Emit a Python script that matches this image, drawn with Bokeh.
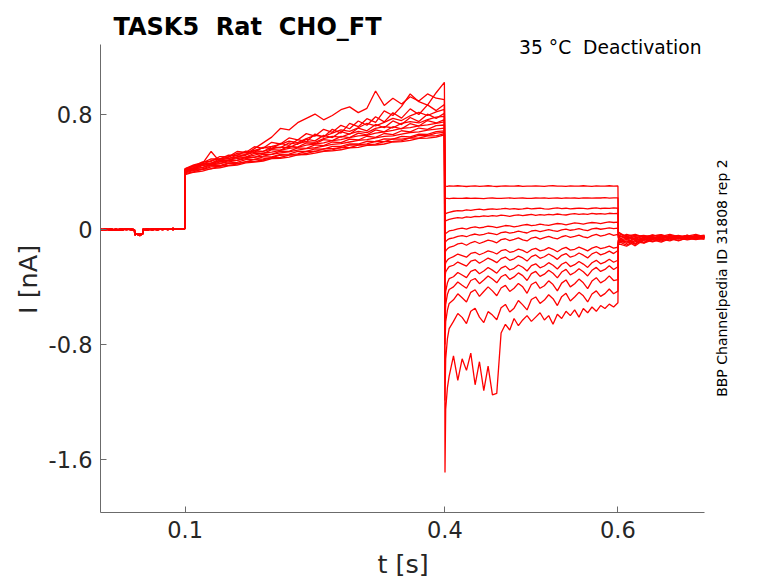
import math
from bokeh.plotting import figure
from bokeh.models import Range1d, FixedTicker, Label, Title
from bokeh.embed import file_html
from bokeh.resources import INLINE

# ---------------- data ----------------
title_text = "TASK5 \u00a0Rat \u00a0CHO_FT"
cond_text = "35 \u00b0C \u00a0Deactivation"
side_text = "BBP Channelpedia ID 31808 rep 2"
x_label = "t [s]"
y_label = "I [nA]"
x_ticks = [0.1, 0.4, 0.6]
x_tick_labels = ["0.1", "0.4", "0.6"]
y_ticks = [0.8, 0.0, -0.8, -1.6]
y_tick_labels = ["0.8", "0", "-0.8", "-1.6"]
x_axis_span = (0.0022, 0.700)
y_axis_span = (-1.967, 1.283)

# holding segment (shared by the sweeps)
base_t = [0.002, 0.008, 0.014, 0.020, 0.026, 0.032, 0.038, 0.0414, 0.0418, 0.045,
          0.048, 0.0508, 0.0512, 0.056, 0.062, 0.068, 0.074, 0.080, 0.086, 0.092, 0.0995]
base_a = [0.000, -0.004, 0.003, -0.006, 0.002, -0.003, 0.001, -0.002, -0.030, -0.038,
          -0.032, -0.036, -0.004, 0.002, -0.005, 0.003, -0.002, 0.004, -0.003, 0.005, 0.002]
base_b = [-0.006, 0.002, -0.008, 0.001, -0.007, 0.003, -0.005, -0.006, -0.040, -0.032,
          -0.044, -0.030, 0.001, -0.006, 0.002, -0.004, 0.005, -0.003, 0.006, -0.001, 0.004]

# pre-pulse segment
pre_t = [0.10, 0.11, 0.12, 0.13, 0.14, 0.15, 0.16, 0.17, 0.18, 0.19, 0.20, 0.21, 0.22,
         0.23, 0.24, 0.25, 0.26, 0.27, 0.28, 0.29, 0.30, 0.31, 0.32, 0.33, 0.34, 0.35,
         0.36, 0.37, 0.38, 0.39, 0.3995]
pre_1 = [0.421, 0.447, 0.462, 0.489, 0.488, 0.515, 0.513, 0.543, 0.536, 0.569, 0.560, 0.596, 0.583, 0.622, 0.608, 0.661, 0.640, 0.694, 0.668, 0.735, 0.712, 0.768, 0.742, 0.822, 0.790, 0.853, 0.940, 0.886, 0.862, 0.948, 1.020]
pre_2 = [0.420, 0.440, 0.455, 0.540, 0.470, 0.480, 0.500, 0.520, 0.560, 0.600, 0.640, 0.700, 0.690, 0.740, 0.770, 0.800, 0.760, 0.790, 0.830, 0.850, 0.810, 0.840, 0.960, 0.860, 0.910, 0.870, 0.920, 0.890, 0.940, 0.910, 0.900]
pre_3 = [0.418, 0.436, 0.468, 0.471, 0.505, 0.503, 0.540, 0.533, 0.573, 0.562, 0.604, 0.592, 0.634, 0.620, 0.664, 0.647, 0.694, 0.673, 0.722, 0.698, 0.752, 0.722, 0.781, 0.746, 0.809, 0.772, 0.836, 0.797, 0.864, 0.824, 0.866]
pre_4 = [0.417, 0.440, 0.452, 0.476, 0.488, 0.500, 0.527, 0.530, 0.548, 0.566, 0.575, 0.590, 0.612, 0.602, 0.630, 0.652, 0.644, 0.668, 0.690, 0.680, 0.705, 0.736, 0.718, 0.742, 0.770, 0.755, 0.788, 0.812, 0.790, 0.815, 0.833]
pre_5 = [0.412, 0.428, 0.456, 0.460, 0.488, 0.489, 0.517, 0.514, 0.546, 0.540, 0.573, 0.566, 0.600, 0.590, 0.626, 0.614, 0.652, 0.637, 0.678, 0.660, 0.703, 0.684, 0.728, 0.705, 0.752, 0.727, 0.776, 0.748, 0.799, 0.770, 0.806]
pre_6 = [0.409, 0.428, 0.450, 0.458, 0.480, 0.492, 0.502, 0.518, 0.534, 0.540, 0.558, 0.570, 0.566, 0.595, 0.608, 0.604, 0.630, 0.645, 0.640, 0.662, 0.680, 0.671, 0.700, 0.712, 0.705, 0.735, 0.748, 0.738, 0.762, 0.779, 0.784]
pre_7 = [0.407, 0.422, 0.447, 0.450, 0.476, 0.477, 0.503, 0.501, 0.528, 0.525, 0.553, 0.549, 0.577, 0.571, 0.600, 0.594, 0.622, 0.615, 0.645, 0.636, 0.668, 0.656, 0.690, 0.677, 0.712, 0.697, 0.734, 0.717, 0.755, 0.738, 0.762]
pre_8 = [0.404, 0.420, 0.442, 0.450, 0.466, 0.480, 0.491, 0.500, 0.515, 0.528, 0.535, 0.548, 0.562, 0.568, 0.584, 0.592, 0.600, 0.616, 0.622, 0.636, 0.648, 0.652, 0.668, 0.676, 0.686, 0.700, 0.706, 0.718, 0.725, 0.736, 0.745]
pre_9 = [0.403, 0.421, 0.428, 0.452, 0.455, 0.476, 0.478, 0.499, 0.500, 0.522, 0.520, 0.543, 0.541, 0.565, 0.562, 0.586, 0.581, 0.606, 0.601, 0.626, 0.620, 0.646, 0.638, 0.665, 0.657, 0.684, 0.676, 0.703, 0.694, 0.720, 0.724]
pre_10 = [0.401, 0.418, 0.430, 0.446, 0.456, 0.468, 0.478, 0.490, 0.500, 0.508, 0.520, 0.530, 0.538, 0.550, 0.560, 0.566, 0.578, 0.590, 0.594, 0.606, 0.618, 0.622, 0.634, 0.645, 0.648, 0.660, 0.672, 0.676, 0.688, 0.696, 0.703]
pre_11 = [0.396, 0.414, 0.420, 0.441, 0.442, 0.461, 0.465, 0.483, 0.484, 0.502, 0.503, 0.520, 0.522, 0.540, 0.540, 0.558, 0.557, 0.576, 0.575, 0.593, 0.592, 0.611, 0.609, 0.627, 0.626, 0.645, 0.642, 0.661, 0.659, 0.678, 0.683]
pre_12 = [0.392, 0.409, 0.414, 0.433, 0.437, 0.456, 0.458, 0.468, 0.486, 0.488, 0.497, 0.514, 0.516, 0.524, 0.541, 0.540, 0.559, 0.560, 0.566, 0.585, 0.586, 0.593, 0.611, 0.609, 0.627, 0.626, 0.634, 0.652, 0.650, 0.667, 0.673]
pre_13 = [0.387, 0.401, 0.417, 0.420, 0.438, 0.443, 0.452, 0.470, 0.471, 0.481, 0.497, 0.499, 0.515, 0.517, 0.526, 0.543, 0.544, 0.551, 0.568, 0.567, 0.584, 0.586, 0.591, 0.609, 0.610, 0.616, 0.634, 0.633, 0.648, 0.649, 0.664]
pre_14 = [0.379, 0.396, 0.404, 0.421, 0.427, 0.441, 0.446, 0.461, 0.466, 0.474, 0.490, 0.493, 0.501, 0.517, 0.519, 0.528, 0.541, 0.545, 0.552, 0.566, 0.569, 0.583, 0.585, 0.592, 0.606, 0.609, 0.617, 0.631, 0.633, 0.640, 0.655]

# tail (deactivation) segment
tail_t = [0.4002, 0.401, 0.403, 0.405, 0.410, 0.415, 0.420, 0.425, 0.430, 0.435, 0.440,
          0.445, 0.450, 0.455, 0.460, 0.465, 0.470, 0.475, 0.480, 0.485, 0.490, 0.495,
          0.500, 0.505, 0.510, 0.515, 0.520, 0.525, 0.530, 0.535, 0.540, 0.545, 0.550,
          0.555, 0.560, 0.565, 0.570, 0.575, 0.580, 0.585, 0.590, 0.595, 0.600]
tail_1 = [0.302, 0.300, 0.298, 0.301, 0.299, 0.302, 0.300, 0.297, 0.300, 0.301, 0.298, 0.300, 0.302, 0.299, 0.297, 0.300, 0.301, 0.299, 0.300, 0.302, 0.298, 0.300, 0.299, 0.301, 0.300, 0.298, 0.301, 0.302, 0.299, 0.300, 0.298, 0.301, 0.300, 0.299, 0.302, 0.300, 0.298, 0.301, 0.299, 0.300, 0.302, 0.300, 0.301]
tail_2 = [0.212, 0.214, 0.215, 0.213, 0.216, 0.214, 0.215, 0.217, 0.214, 0.216, 0.215, 0.213, 0.216, 0.217, 0.215, 0.214, 0.216, 0.218, 0.215, 0.216, 0.217, 0.215, 0.214, 0.217, 0.216, 0.218, 0.215, 0.216, 0.217, 0.215, 0.218, 0.216, 0.217, 0.215, 0.218, 0.217, 0.216, 0.218, 0.217, 0.219, 0.216, 0.218, 0.218]
tail_3 = [0.100, 0.108, 0.114, 0.118, 0.125, 0.130, 0.128, 0.134, 0.131, 0.137, 0.140, 0.135, 0.139, 0.142, 0.138, 0.141, 0.145, 0.140, 0.143, 0.139, 0.142, 0.146, 0.141, 0.144, 0.147, 0.142, 0.140, 0.145, 0.148, 0.143, 0.146, 0.141, 0.144, 0.147, 0.145, 0.142, 0.146, 0.149, 0.144, 0.147, 0.145, 0.148, 0.146]
tail_4 = [0.050, 0.058, 0.064, 0.068, 0.075, 0.081, 0.078, 0.086, 0.083, 0.090, 0.087, 0.093, 0.089, 0.095, 0.091, 0.098, 0.094, 0.090, 0.097, 0.100, 0.095, 0.099, 0.103, 0.097, 0.101, 0.098, 0.104, 0.100, 0.106, 0.102, 0.099, 0.105, 0.108, 0.103, 0.107, 0.104, 0.110, 0.106, 0.109, 0.105, 0.111, 0.108, 0.110]
tail_5 = [-0.040, -0.030, -0.021, -0.012, -0.006, 0.002, 0.008, 0.001, 0.012, 0.016, 0.009, 0.014, 0.021, 0.018, 0.011, 0.019, 0.026, 0.024, 0.017, 0.022, 0.029, 0.033, 0.025, 0.028, 0.036, 0.031, 0.027, 0.034, 0.040, 0.037, 0.031, 0.038, 0.044, 0.041, 0.036, 0.043, 0.047, 0.045, 0.039, 0.046, 0.051, 0.047, 0.050]
tail_6 = [-0.100, -0.086, -0.074, -0.066, -0.060, -0.049, -0.044, -0.052, -0.040, -0.033, -0.041, -0.035, -0.026, -0.031, -0.038, -0.024, -0.019, -0.027, -0.022, -0.013, -0.020, -0.026, -0.012, -0.008, -0.016, -0.010, -0.002, -0.009, -0.014, -0.004, 0.001, -0.007, -0.002, 0.004, -0.004, -0.009, 0.003, 0.007, 0.000, 0.005, 0.010, 0.004, 0.008]
tail_7 = [-0.170, -0.150, -0.136, -0.126, -0.118, -0.102, -0.097, -0.111, -0.094, -0.085, -0.099, -0.088, -0.076, -0.083, -0.094, -0.072, -0.066, -0.079, -0.070, -0.060, -0.074, -0.081, -0.061, -0.055, -0.068, -0.058, -0.049, -0.060, -0.067, -0.052, -0.045, -0.057, -0.050, -0.041, -0.053, -0.059, -0.044, -0.036, -0.047, -0.040, -0.031, -0.042, -0.035]
tail_8 = [-0.260, -0.232, -0.214, -0.203, -0.190, -0.172, -0.183, -0.194, -0.168, -0.160, -0.177, -0.165, -0.150, -0.158, -0.172, -0.149, -0.141, -0.160, -0.153, -0.138, -0.147, -0.163, -0.142, -0.133, -0.150, -0.143, -0.128, -0.139, -0.156, -0.137, -0.126, -0.145, -0.139, -0.124, -0.136, -0.150, -0.131, -0.120, -0.135, -0.128, -0.117, -0.131, -0.125]
tail_9 = [-0.330, -0.297, -0.276, -0.260, -0.250, -0.228, -0.242, -0.256, -0.222, -0.212, -0.236, -0.219, -0.200, -0.214, -0.232, -0.204, -0.193, -0.216, -0.205, -0.186, -0.199, -0.221, -0.190, -0.178, -0.202, -0.191, -0.172, -0.188, -0.209, -0.181, -0.169, -0.194, -0.184, -0.165, -0.180, -0.199, -0.171, -0.158, -0.178, -0.167, -0.152, -0.169, -0.148]
tail_10 = [-0.550, -0.432, -0.372, -0.343, -0.330, -0.300, -0.318, -0.336, -0.292, -0.280, -0.309, -0.290, -0.266, -0.284, -0.305, -0.270, -0.256, -0.283, -0.271, -0.248, -0.264, -0.290, -0.252, -0.240, -0.268, -0.255, -0.232, -0.250, -0.276, -0.243, -0.228, -0.259, -0.246, -0.224, -0.242, -0.265, -0.233, -0.216, -0.240, -0.228, -0.208, -0.229, -0.215]
tail_11 = [-0.650, -0.522, -0.452, -0.418, -0.400, -0.366, -0.389, -0.410, -0.356, -0.342, -0.378, -0.352, -0.324, -0.346, -0.372, -0.330, -0.314, -0.348, -0.331, -0.303, -0.322, -0.356, -0.308, -0.293, -0.327, -0.312, -0.285, -0.306, -0.338, -0.297, -0.279, -0.317, -0.300, -0.274, -0.295, -0.324, -0.285, -0.265, -0.293, -0.279, -0.254, -0.280, -0.260]
tail_12 = [-0.800, -0.642, -0.562, -0.515, -0.490, -0.448, -0.476, -0.505, -0.438, -0.420, -0.466, -0.432, -0.400, -0.428, -0.462, -0.408, -0.390, -0.432, -0.410, -0.376, -0.400, -0.445, -0.384, -0.366, -0.410, -0.392, -0.358, -0.384, -0.428, -0.374, -0.352, -0.400, -0.378, -0.346, -0.372, -0.412, -0.360, -0.336, -0.372, -0.354, -0.324, -0.356, -0.350]
tail_13 = [-1.190, -0.900, -0.760, -0.690, -0.640, -0.585, -0.612, -0.655, -0.570, -0.548, -0.610, -0.648, -0.572, -0.596, -0.628, -0.545, -0.522, -0.575, -0.548, -0.495, -0.525, -0.560, -0.488, -0.470, -0.515, -0.492, -0.455, -0.482, -0.530, -0.468, -0.445, -0.498, -0.470, -0.438, -0.462, -0.505, -0.450, -0.428, -0.466, -0.447, -0.415, -0.448, -0.430]
tail_14 = [-1.690, -1.250, -1.100, -1.020, -0.880, -1.050, -0.900, -0.980, -0.860, -1.080, -0.920, -1.120, -0.950, -1.150, -1.140, -0.720, -0.660, -0.700, -0.620, -0.670, -0.630, -0.600, -0.640, -0.610, -0.580, -0.630, -0.600, -0.660, -0.590, -0.620, -0.570, -0.600, -0.560, -0.610, -0.550, -0.580, -0.540, -0.570, -0.530, -0.550, -0.520, -0.540, -0.510]

# post segment
post_t = [0.6005, 0.61, 0.62, 0.63, 0.64, 0.65, 0.66, 0.67, 0.68, 0.69, 0.70]
post_1 = [-0.030, -0.048, -0.036, -0.055, -0.041, -0.050, -0.035, -0.052, -0.043, -0.058, -0.045]
post_2 = [-0.045, -0.062, -0.040, -0.058, -0.047, -0.038, -0.055, -0.044, -0.060, -0.042, -0.050]
post_3 = [-0.020, -0.055, -0.070, -0.045, -0.052, -0.066, -0.041, -0.057, -0.048, -0.036, -0.053]
post_4 = [-0.060, -0.035, -0.052, -0.074, -0.046, -0.040, -0.061, -0.049, -0.055, -0.044, -0.058]
post_5 = [-0.038, -0.068, -0.050, -0.042, -0.063, -0.054, -0.047, -0.066, -0.040, -0.059, -0.046]
post_6 = [-0.052, -0.044, -0.080, -0.057, -0.039, -0.060, -0.051, -0.043, -0.064, -0.050, -0.041]
post_7 = [-0.065, -0.090, -0.058, -0.048, -0.070, -0.045, -0.059, -0.053, -0.046, -0.062, -0.055]
post_8 = [-0.070, -0.052, -0.063, -0.095, -0.055, -0.066, -0.048, -0.060, -0.068, -0.047, -0.057]
post_9 = [-0.080, -0.061, -0.100, -0.060, -0.072, -0.050, -0.064, -0.057, -0.050, -0.065, -0.052]
post_10 = [-0.075, -0.098, -0.066, -0.077, -0.058, -0.082, -0.056, -0.069, -0.053, -0.060, -0.049]
post_11 = [-0.090, -0.070, -0.105, -0.064, -0.085, -0.061, -0.073, -0.058, -0.066, -0.054, -0.062]
post_12 = [-0.085, -0.110, -0.078, -0.090, -0.067, -0.075, -0.062, -0.080, -0.057, -0.068, -0.059]
post_13 = [-0.095, -0.080, -0.115, -0.072, -0.088, -0.069, -0.081, -0.060, -0.074, -0.063, -0.070]
post_14 = [-0.100, -0.118, -0.085, -0.097, -0.074, -0.090, -0.066, -0.078, -0.064, -0.072, -0.061]

pre_all = [pre_1, pre_2, pre_3, pre_4, pre_5, pre_6, pre_7, pre_8, pre_9, pre_10, pre_11, pre_12, pre_13, pre_14]
tail_all = [tail_1, tail_2, tail_3, tail_4, tail_5, tail_6, tail_7, tail_8, tail_9, tail_10, tail_11, tail_12, tail_13, tail_14]
post_all = [post_1, post_2, post_3, post_4, post_5, post_6, post_7, post_8, post_9, post_10, post_11, post_12, post_13, post_14]

xs, ys = [], []
for i in range(len(pre_all)):
    base = base_a if i % 2 == 0 else base_b
    xs.append(base_t + pre_t + tail_t + post_t)
    ys.append(base + pre_all[i] + tail_all[i] + post_all[i])

# ---------------- figure ----------------
FONT = "DejaVu Sans"
AX = "#6b6b6b"
TXT = "#262626"

# the frame reaches up to the title and right to the side note; the axes are
# bounded to the data window so that they look like the reference's L-shaped axes
p = figure(frame_width=669, frame_height=510,
           x_range=Range1d(0.0022, 0.7751), y_range=Range1d(-1.967, 1.5747),
           output_backend="svg", toolbar_location=None, title=None,
           min_border_left=100, min_border_right=0, min_border_top=2, min_border_bottom=5)

p.multi_line(xs, ys, line_color="#ff0000", line_width=1.3)

p.xaxis.ticker = FixedTicker(ticks=x_ticks)
p.xaxis.major_label_overrides = dict(zip(x_ticks, x_tick_labels))
p.yaxis.ticker = FixedTicker(ticks=y_ticks)
p.yaxis.major_label_overrides = dict(zip(y_ticks, y_tick_labels))
p.xaxis.bounds = x_axis_span
p.yaxis.bounds = y_axis_span

for ax in (p.xaxis, p.yaxis):
    ax.axis_line_color = AX
    ax.axis_line_width = 1
    ax.major_tick_line_color = AX
    ax.major_tick_in = 6
    ax.major_tick_out = 0
    ax.minor_tick_line_color = None
    ax.major_label_text_font = FONT
    ax.major_label_text_font_size = "22.5px"
    ax.major_label_text_color = TXT
    ax.major_label_standoff = 8

p.xgrid.visible = False
p.ygrid.visible = False
p.outline_line_color = None
p.background_fill_color = "white"
p.border_fill_color = "white"

# axis titles, placed on the middle of the bounded axes rather than of the wider frame
p.add_layout(Title(text=x_label, align="left", offset=277, standoff=12,
                   text_font=FONT, text_font_size="25.5px", text_font_style="normal",
                   text_color=TXT), "below")
p.add_layout(Title(text=y_label, align="left", offset=198.5, standoff=6,
                   text_font=FONT, text_font_size="25.5px", text_font_style="normal",
                   text_color=TXT), "left")

p.add_layout(Label(x=0.0172, y=1.408, text=title_text, text_font=FONT,
                   text_font_style="bold", text_font_size="24px", text_color="black",
                   text_align="left", text_baseline="alphabetic"))
p.add_layout(Label(x=0.6966, y=1.262, text=cond_text, text_font=FONT,
                   text_font_size="18.7px", text_color="black",
                   text_align="right", text_baseline="alphabetic"))
p.add_layout(Label(x=0.7197, y=-0.339, text=side_text, text_font=FONT,
                   text_font_size="14px", text_color="black", angle=math.pi / 2,
                   text_align="center", text_baseline="alphabetic"))

open("out.html", "w").write(file_html(p, INLINE))
